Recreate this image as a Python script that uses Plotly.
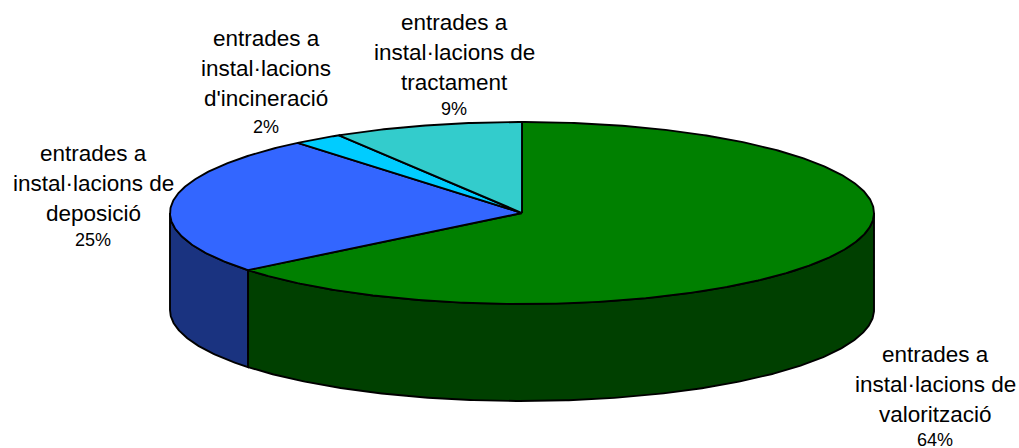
import numpy as np
import plotly.graph_objects as go

# Data (clockwise from 12 o'clock)
categories = ["valorització", "deposició", "incineració", "tractament"]
shares = [64.2, 24.8, 2.3, 8.7]
percent_labels = ["64%", "25%", "2%", "9%"]
label_lines = [
    ["entrades a", "instal·lacions de", "valorització"],
    ["entrades a", "instal·lacions de", "deposició"],
    ["entrades a", "instal·lacions", "d'incineració"],
    ["entrades a", "instal·lacions de", "tractament"],
]
top_colors = ["#008000", "#3366FF", "#00CCFF", "#33CCCC"]
side_colors = ["#004000", "#1A3380", "#006680", "#1A6666"]

# Geometry of the tilted disc, in page pixels
CX, CY, RX, RY, DEPTH = 522, 213, 352, 91, 97
LABEL_X = [935, 93, 266, 454]
LABEL_Y = [[354, 384, 414, 440], [153, 183, 213, 240], [38, 68, 98, 127], [22, 52, 82, 109]]
FONT = "Liberation Sans, Arial, sans-serif"


def arc(a0, a1, dy=0.0):
    t = np.radians(np.linspace(a0, a1, max(int(abs(a1 - a0) * 2), 2)))
    return CX + RX * np.sin(t), CY - RY * np.cos(t) + dy


fig = go.Figure()
edges = np.cumsum([0] + shares) / sum(shares) * 360

# Side walls (visible only on the front half)
for i in range(len(shares)):
    a0, a1 = max(edges[i], 90), min(edges[i + 1], 270)
    if a1 <= a0:
        continue
    x0, y0 = arc(a0, a1)
    x1, y1 = arc(a1, a0, DEPTH)
    fig.add_trace(go.Scatter(
        x=np.r_[x0, x1, x0[0]], y=np.r_[y0, y1, y0[0]], mode="lines", fill="toself",
        fillcolor=side_colors[i], line=dict(color="black", width=1.9), hoverinfo="skip",
    ))

# Top face
for i in range(len(shares)):
    x0, y0 = arc(edges[i], edges[i + 1])
    fig.add_trace(go.Scatter(
        x=np.r_[CX, x0, CX], y=np.r_[CY, y0, CY], mode="lines", fill="toself",
        fillcolor=top_colors[i], line=dict(color="black", width=1.9),
        name=categories[i], hoverinfo="skip",
    ))

# Labels
for i in range(len(shares)):
    for line, y in zip(label_lines[i], LABEL_Y[i]):
        fig.add_annotation(x=LABEL_X[i], y=y, text=line, showarrow=False, xanchor="center",
                           yanchor="middle", font=dict(family=FONT, size=22.5, color="black"))
    fig.add_annotation(x=LABEL_X[i], y=LABEL_Y[i][3], text=percent_labels[i], showarrow=False,
                       xanchor="center", yanchor="middle",
                       font=dict(family=FONT, size=18, color="black"))

fig.update_layout(
    width=1019, height=448, margin=dict(l=0, r=0, t=0, b=0), showlegend=False,
    paper_bgcolor="white", plot_bgcolor="white",
    xaxis=dict(visible=False, range=[0, 1019], fixedrange=True),
    yaxis=dict(visible=False, range=[448, 0], fixedrange=True),
)
fig.write_html("out.html", config={"displayModeBar": False},
               post_script="document.body.style.margin='0';")
